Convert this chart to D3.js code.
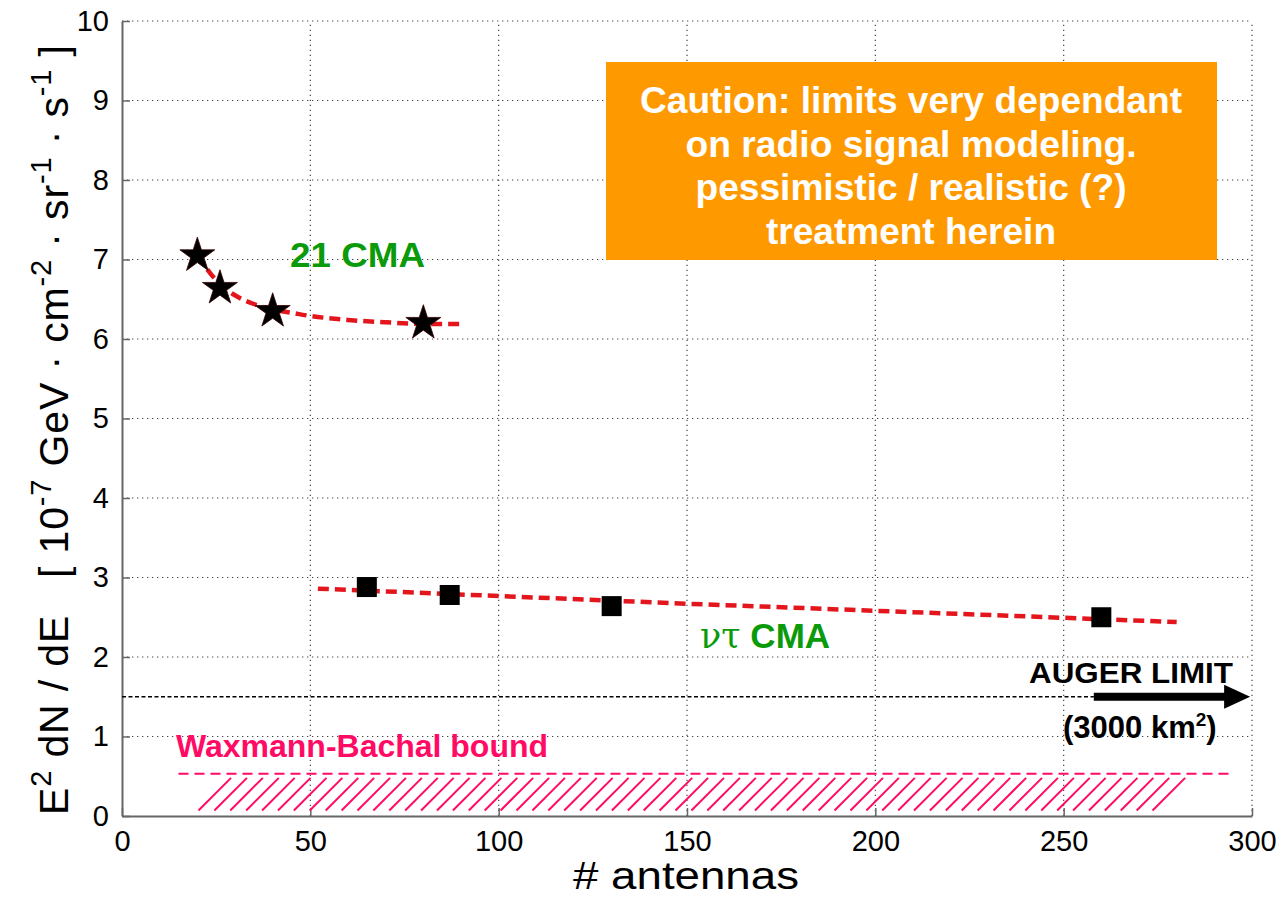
<!DOCTYPE html>
<html>
<head>
<meta charset="utf-8">
<script src="https://cdn.jsdelivr.net/npm/d3@7"></script>
<style>
  html, body { margin: 0; padding: 0; background: #fff; }
  svg { display: block; font-family: Arial, "Liberation Sans", sans-serif; }
</style>
</head>
<body>
<svg id="chart" width="1283" height="899"></svg>
<script>
// ---------- data ----------
const xTicks = [0, 50, 100, 150, 200, 250, 300];
const yTicks = [0, 1, 2, 3, 4, 5, 6, 7, 8, 9, 10];

// 21 CMA (stars)
const cma21Antennas = [20, 26, 40, 80];
const cma21Limit    = [7.05, 6.64, 6.35, 6.20];
// 21 CMA fitted curve
const cma21FitX = [20, 25, 30, 35, 40, 45, 50, 60, 70, 80, 90];
const cma21FitY = [7.05, 6.74, 6.55, 6.44, 6.37, 6.33, 6.29, 6.24, 6.21, 6.19, 6.19];

// nu-tau CMA (squares)
const nutauAntennas = [65, 87, 130, 260];
const nutauLimit    = [2.88, 2.78, 2.64, 2.50];
// nu-tau fit line
const nutauFitX = [52, 150, 280];
const nutauFitY = [2.86, 2.67, 2.44];

// Auger limit
const augerLevel = 1.5;
const augerLineX = [0, 258];
const augerArrowX = [258, 299.5];

// Waxmann-Bachal bound
const wbLevel = 0.53;
const wbLineX = [15, 295];
const wbHatchBottomX = [20.3, 273.6];
const wbHatchY = [0.07, 0.48];

const cautionLines = [
  "Caution: limits very dependant",
  "on radio signal modeling.",
  "pessimistic / realistic (?)",
  "treatment herein"
];

// ---------- layout ----------
const svg = d3.select("#chart");
const L = 122, R = 1252, T = 21, B = 816;
const x = d3.scaleLinear().domain([0, 300]).range([L, R]);
const y = d3.scaleLinear().domain([0, 10]).range([B, T]);

const red = "#e3161d", green = "#0a9a0a", pink = "#ff0a64", orange = "#ff9900";

// grid
const grid = svg.append("g");
grid.selectAll(".gx").data(xTicks.filter(d => d > 0)).join("line")
  .attr("x1", d => x(d)).attr("x2", d => x(d)).attr("y1", B).attr("y2", T)
  .attr("stroke", "#444").attr("stroke-width", 1.2).attr("stroke-dasharray", "1.3,3.7");
grid.selectAll(".gy").data(yTicks.filter(d => d > 0)).join("line")
  .attr("x1", L).attr("x2", R).attr("y1", d => y(d)).attr("y2", d => y(d))
  .attr("stroke", "#444").attr("stroke-width", 1.2).attr("stroke-dasharray", "1.3,3.7");

// axes
const xAxis = svg.append("g").attr("transform", `translate(0,${B})`)
  .call(d3.axisBottom(x).tickValues(xTicks).tickSizeInner(-8).tickSizeOuter(0).tickPadding(14));
const yAxis = svg.append("g").attr("transform", `translate(${L},0)`)
  .call(d3.axisLeft(y).tickValues(yTicks).tickSizeInner(-8).tickSizeOuter(0).tickPadding(12));
[xAxis, yAxis].forEach(g => {
  g.select(".domain").attr("stroke", "#666").attr("stroke-width", 2);
  g.selectAll(".tick line").attr("stroke", "#666").attr("stroke-width", 1.5);
  g.selectAll(".tick text").attr("fill", "#000").attr("font-size", 29)
    .attr("font-family", "Arial, 'Liberation Sans', sans-serif");
});
xAxis.selectAll(".tick text").attr("dy", "0.71em");
yAxis.selectAll(".tick text").attr("dx", "-1");

// Waxmann-Bachal
svg.append("line")
  .attr("x1", x(wbLineX[0])).attr("x2", x(wbLineX[1]))
  .attr("y1", y(wbLevel)).attr("y2", y(wbLevel))
  .attr("stroke", pink).attr("stroke-width", 2).attr("stroke-dasharray", "10,6");
const hb = y(wbHatchY[0]), ht = y(wbHatchY[1]);
const hx0 = x(wbHatchBottomX[0]), hx1 = x(wbHatchBottomX[1]);
const step = 16;
const hatchStarts = d3.range(hx0, hx1 + 0.5, (hx1 - hx0) / Math.round((hx1 - hx0) / step));
svg.append("g").selectAll("line").data(hatchStarts).join("line")
  .attr("x1", d => d).attr("y1", hb).attr("x2", d => d + (hb - ht)).attr("y2", ht)
  .attr("stroke", pink).attr("stroke-width", 2);
svg.append("text").attr("x", 176).attr("y", 757)
  .attr("fill", pink).attr("font-weight", "bold").attr("font-size", 31)
  .attr("textLength", 372).attr("lengthAdjust", "spacingAndGlyphs")
  .text("Waxmann-Bachal bound");

// Auger limit
svg.append("line")
  .attr("x1", x(augerLineX[0])).attr("x2", x(augerLineX[1]))
  .attr("y1", y(augerLevel)).attr("y2", y(augerLevel))
  .attr("stroke", "#000").attr("stroke-width", 1.6).attr("stroke-dasharray", "4,2.5");
const ay = y(augerLevel);
const ax0 = x(augerArrowX[0]), ax1 = x(augerArrowX[1]);
svg.append("line").attr("x1", ax0).attr("x2", ax1 - 22).attr("y1", ay).attr("y2", ay)
  .attr("stroke", "#000").attr("stroke-width", 8);
svg.append("path")
  .attr("d", `M${ax1 - 26},${ay - 12} L${ax1},${ay} L${ax1 - 26},${ay + 12} Z`)
  .attr("fill", "#000");
svg.append("text").attr("x", 1029).attr("y", 683)
  .attr("font-weight", "bold").attr("font-size", 30).attr("fill", "#000")
  .attr("textLength", 204).attr("lengthAdjust", "spacingAndGlyphs")
  .text("AUGER LIMIT");
const km = svg.append("text").attr("x", 1063).attr("y", 738)
  .attr("font-weight", "bold").attr("font-size", 31).attr("fill", "#000");
km.append("tspan").text("(3000 km");
km.append("tspan").attr("font-size", 19).attr("dy", -12).text("2");
km.append("tspan").attr("dy", 12).text(")");

// fit lines
const line = d3.line().x(d => x(d[0])).y(d => y(d[1])).curve(d3.curveMonotoneX);
svg.append("path").datum(d3.zip(cma21FitX, cma21FitY)).attr("d", line)
  .attr("fill", "none").attr("stroke", red).attr("stroke-width", 4.5).attr("stroke-dasharray", "11,6");
svg.append("path").datum(d3.zip(nutauFitX, nutauFitY)).attr("d", d3.line().x(d => x(d[0])).y(d => y(d[1])))
  .attr("fill", "none").attr("stroke", red).attr("stroke-width", 4.5).attr("stroke-dasharray", "11,6");

// markers
svg.append("g").selectAll("path").data(d3.zip(cma21Antennas, cma21Limit)).join("path")
  .attr("transform", d => `translate(${x(d[0])},${y(d[1])})`)
  .attr("d", d3.symbol(d3.symbolStar, 380))
  .attr("fill", "#000").attr("stroke", "#300").attr("stroke-width", 0.8);
svg.append("g").selectAll("rect").data(d3.zip(nutauAntennas, nutauLimit)).join("rect")
  .attr("x", d => x(d[0]) - 10).attr("y", d => y(d[1]) - 10)
  .attr("width", 20).attr("height", 20).attr("fill", "#000");

// labels
svg.append("text").attr("x", 290).attr("y", 267)
  .attr("fill", green).attr("font-weight", "bold").attr("font-size", 35)
  .attr("textLength", 135).attr("lengthAdjust", "spacingAndGlyphs").text("21 CMA");
const nt = svg.append("text").attr("x", 700).attr("y", 648)
  .attr("fill", green).attr("font-weight", "bold").attr("font-size", 35);
nt.append("tspan").attr("font-family", "'DejaVu Serif', 'Liberation Serif', serif").attr("font-weight", "normal").text("ντ");
nt.append("tspan").text(" CMA");

// caution box
svg.append("rect").attr("x", 606).attr("y", 62).attr("width", 611).attr("height", 198).attr("fill", orange);
const cautionWidths = [542, 451, 431, 290];
svg.append("g").selectAll("text").data(cautionLines).join("text")
  .attr("x", 911).attr("y", (d, i) => 113 + i * 43.5)
  .attr("text-anchor", "middle").attr("fill", "#fff").attr("font-weight", "bold")
  .attr("font-size", 37)
  .attr("textLength", (d, i) => cautionWidths[i]).attr("lengthAdjust", "spacingAndGlyphs")
  .text(d => d);

// axis titles
svg.append("text").attr("x", 686).attr("y", 889).attr("text-anchor", "middle")
  .attr("font-size", 38).attr("fill", "#000")
  .attr("textLength", 226).attr("lengthAdjust", "spacingAndGlyphs")
  .text("# antennas");
const yl = svg.append("text").attr("transform", "translate(68,430) rotate(-90)")
  .attr("text-anchor", "middle").attr("font-size", 41).attr("fill", "#000")
  .attr("textLength", 770).attr("lengthAdjust", "spacing");
const parts = [["E", 0], ["2", 1], ["\u00a0dN / dE\u00a0\u00a0\u00a0[ 10", 0], ["-7", 1], [" GeV · cm", 0], ["-2", 1],
               [" · sr", 0], ["-1", 1], [" · s", 0], ["-1", 1], [" ]", 0]];
let prevSup = false;
parts.forEach(([t, s]) => {
  const ts = yl.append("tspan").text(t);
  if (s) { ts.attr("font-size", 29).attr("dy", prevSup ? 0 : -17); prevSup = true; }
  else { if (prevSup) ts.attr("dy", 17); prevSup = false; }
});
</script>
</body>
</html>
